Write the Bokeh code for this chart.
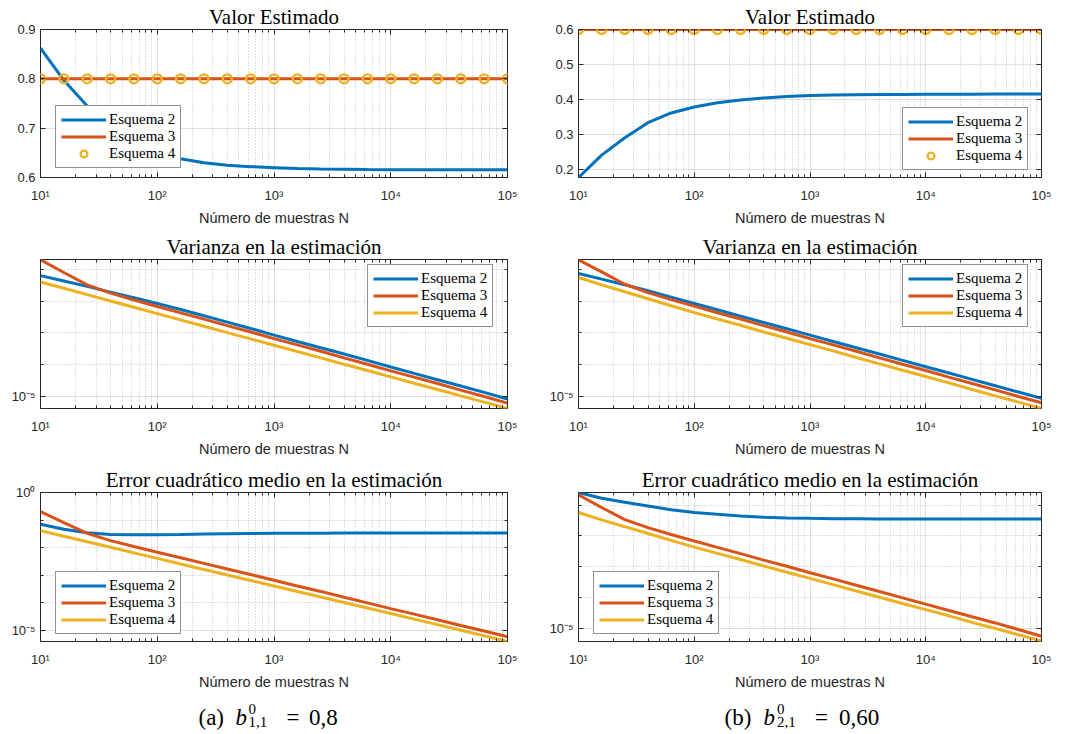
from bokeh.plotting import figure
from bokeh.layouts import column, row
from bokeh.models import (Range1d, FixedTicker, CustomJSTickFormatter, PrintfTickFormatter,
                          LogAxis, LinearAxis, Label)
from bokeh.embed import file_html
from bokeh.resources import INLINE

# ---------------- data ----------------
N = [10, 15.85, 25.12, 39.81, 63.10, 100, 158.5, 251.2, 398.1, 631.0, 1000,
     1585, 2512, 3981, 6310, 10000, 15849, 25119, 39811, 63096, 100000]

series_names = ["Esquema 2", "Esquema 3", "Esquema 4"]
panel_titles = ["Valor Estimado", "Varianza en la estimación",
                "Error cuadrático medio en la estimación"]
x_label = "Número de muestras N"

# (a) b = 0,8
mean_a_e2 = [0.862, 0.797, 0.745, 0.700, 0.672, 0.652, 0.638, 0.630, 0.625, 0.622, 0.620,
             0.618, 0.617, 0.6165, 0.616, 0.6158, 0.6156, 0.6155, 0.6155, 0.6155, 0.6155]
mean_a_e3 = [0.8, 0.8, 0.8, 0.8, 0.8, 0.8, 0.8, 0.8, 0.8, 0.8, 0.8,
             0.8, 0.8, 0.8, 0.8, 0.8, 0.8, 0.8, 0.8, 0.8, 0.8]
mean_a_e4 = [0.8, 0.8, 0.8, 0.8, 0.8, 0.8, 0.8, 0.8, 0.8, 0.8, 0.8,
             0.8, 0.8, 0.8, 0.8, 0.8, 0.8, 0.8, 0.8, 0.8, 0.8]
var_a_e2 = [0.0646, 0.0437, 0.0295, 0.0195, 0.0129, 0.00851, 0.0055, 0.00347, 0.00219, 0.00138,
            8.51e-4, 5.37e-4, 3.39e-4, 2.14e-4, 1.35e-4, 8.32e-5, 5.25e-5, 3.31e-5, 2.09e-5,
            1.32e-5, 8.13e-6]
var_a_e3 = [0.205, 0.0813, 0.0330, 0.0180, 0.0110, 0.00680, 0.00430, 0.00272, 0.0017, 0.00107,
            6.61e-4, 4.17e-4, 2.63e-4, 1.62e-4, 1.02e-4, 6.31e-5, 3.98e-5, 2.51e-5, 1.55e-5,
            9.77e-6, 6.03e-6]
var_a_e4 = [0.0407, 0.0257, 0.0162, 0.0102, 0.00646, 0.00407, 0.00257, 0.00162, 0.00102, 6.46e-4,
            4.07e-4, 2.57e-4, 1.62e-4, 1.02e-4, 6.46e-5, 4.07e-5, 2.57e-5, 1.62e-5, 1.02e-5,
            6.46e-6, 4.07e-6]
mse_a_e2 = [0.0708, 0.0468, 0.0347, 0.0302, 0.0292, 0.0295, 0.0302, 0.0313, 0.032, 0.0327,
            0.0331, 0.0335, 0.0337, 0.0339, 0.0339, 0.034, 0.034, 0.034, 0.034, 0.034, 0.034]
mse_a_e3 = [0.205, 0.0813, 0.0330, 0.0180, 0.0110, 0.0068, 0.0043, 0.0027, 0.0017, 0.00106,
            6.6e-4, 4.1e-4, 2.6e-4, 1.6e-4, 1.0e-4, 6.2e-5, 3.9e-5, 2.45e-5, 1.52e-5, 9.5e-6, 5.9e-6]
mse_a_e4 = [0.0415, 0.0259, 0.0163, 0.0103, 0.0065, 0.0041, 0.00258, 0.00163, 0.00103, 6.5e-4,
            4.1e-4, 2.58e-4, 1.63e-4, 1.03e-4, 6.5e-5, 4.1e-5, 2.58e-5, 1.63e-5, 1.02e-5, 6.4e-6, 4.0e-6]

# (b) b = 0,60
mean_b_e2 = [0.176, 0.240, 0.290, 0.333, 0.361, 0.378, 0.390, 0.398, 0.404, 0.408, 0.411,
             0.412, 0.413, 0.4135, 0.414, 0.4143, 0.4146, 0.4148, 0.415, 0.415, 0.415]
mean_b_e3 = [0.6, 0.6, 0.6, 0.6, 0.6, 0.6, 0.6, 0.6, 0.6, 0.6, 0.6,
             0.6, 0.6, 0.6, 0.6, 0.6, 0.6, 0.6, 0.6, 0.6, 0.6]
mean_b_e4 = [0.6, 0.6, 0.6, 0.6, 0.6, 0.6, 0.6, 0.6, 0.6, 0.6, 0.6,
             0.6, 0.6, 0.6, 0.6, 0.6, 0.6, 0.6, 0.6, 0.6, 0.6]
var_b_e2 = [0.075, 0.0501, 0.0331, 0.0214, 0.0135, 0.00851, 0.00537, 0.00339, 0.00214, 0.00135,
            8.51e-4, 5.37e-4, 3.39e-4, 2.14e-4, 1.35e-4, 8.51e-5, 5.37e-5, 3.39e-5, 2.14e-5,
            1.35e-5, 8.51e-6]
var_b_e3 = [0.204, 0.0851, 0.0345, 0.0188, 0.0113, 0.00700, 0.00435, 0.00275, 0.0017, 0.00107,
            6.61e-4, 4.17e-4, 2.63e-4, 1.62e-4, 1.02e-4, 6.46e-5, 3.98e-5, 2.51e-5, 1.58e-5,
            9.77e-6, 6.17e-6]
var_b_e4 = [0.0562, 0.0331, 0.02, 0.012, 0.00724, 0.00437, 0.00275, 0.00174, 0.00107, 6.76e-4,
            4.27e-4, 2.69e-4, 1.66e-4, 1.05e-4, 6.61e-5, 4.17e-5, 2.63e-5, 1.62e-5, 1.02e-5,
            6.46e-6, 4.07e-6]
mse_b_e2 = [0.255, 0.166, 0.123, 0.0933, 0.0708, 0.0575, 0.0501, 0.0447, 0.0407, 0.0385,
            0.0372, 0.0363, 0.0359, 0.0355, 0.0355, 0.0355, 0.0355, 0.0355, 0.0355, 0.0355, 0.0355]
mse_b_e3 = [0.214, 0.0832, 0.0340, 0.0186, 0.0112, 0.0069, 0.0043, 0.0027, 0.00166, 0.00105,
            6.5e-4, 4.1e-4, 2.57e-4, 1.6e-4, 1.0e-4, 6.3e-5, 3.9e-5, 2.45e-5, 1.55e-5, 9.5e-6, 5.75e-6]
mse_b_e4 = [0.0575, 0.0331, 0.02, 0.012, 0.00724, 0.00437, 0.00275, 0.00174, 0.00107, 6.76e-4,
            4.27e-4, 2.69e-4, 1.66e-4, 1.05e-4, 6.61e-5, 4.17e-5, 2.63e-5, 1.62e-5, 1.02e-5,
            6.46e-6, 4.07e-6]

x_major = [10, 100, 1000, 10000, 100000]
x_minor = [20, 30, 40, 50, 60, 70, 80, 90, 200, 300, 400, 500, 600, 700, 800, 900,
           2000, 3000, 4000, 5000, 6000, 7000, 8000, 9000,
           20000, 30000, 40000, 50000, 60000, 70000, 80000, 90000]
log_major = [1e-5, 1.0]
log_minor = [1e-4, 1e-3, 1e-2, 1e-1]
ticks_a_mean = [0.6, 0.7, 0.8, 0.9]
ticks_b_mean = [0.2, 0.3, 0.4, 0.5, 0.6]

captions = [["(a)", "b", "0", "1,1", "=", "0,8"],
            ["(b)", "b", "0", "2,1", "=", "0,60"]]

# ---------------- style ----------------
BLUE = "#0072BD"
ORANGE = "#D95319"
YELLOW = "#EDB120"
AX = "#262626"

SUP_JS = """
const s = {"-":"\u207b","0":"\u2070","1":"\u00b9","2":"\u00b2","3":"\u00b3","4":"\u2074",
           "5":"\u2075","6":"\u2076","7":"\u2077","8":"\u2078","9":"\u2079"};
const e = Math.round(Math.log10(tick));
return "10" + String(e).split("").map(c => s[c]).join("");
"""


def style_axis(ax, show_labels=True):
    ax.axis_line_color = None
    ax.major_tick_line_color = AX
    ax.minor_tick_line_color = AX
    ax.major_tick_in = 5
    ax.major_tick_out = 0
    ax.minor_tick_in = 3
    ax.minor_tick_out = 0
    if show_labels:
        ax.major_label_text_font = "Liberation Sans"
        ax.major_label_text_font_size = "13px"
        ax.major_label_text_color = AX
    else:
        ax.major_label_text_font_size = "1px"
        ax.major_label_text_alpha = 0
        ax.major_label_standoff = 0


def panel(col, rowi, title, yvals, ylog, yrange, yticks, yminor, legend_xy, markers):
    w = 533 if col == 0 else 532
    bl = 40 if col == 0 else 45
    fw = 467 if col == 0 else 463
    br = w - bl - fw
    h = 232 if rowi == 2 else 230
    bt = [29, 29, 32][rowi]
    fh = [148, 149, 149][rowi]
    bb = h - bt - fh
    p = figure(width=w, height=h, x_axis_type="log",
               y_axis_type="log" if ylog else "linear",
               x_range=Range1d(10, 1e5), y_range=Range1d(*yrange),
               output_backend="svg", toolbar_location=None,
               min_border_left=bl, min_border_right=br,
               min_border_top=bt, min_border_bottom=bb, title=title)
    p.title.text_font = "Liberation Serif"
    p.title.text_font_size = "21px"
    p.title.text_font_style = "normal"
    p.title.text_color = "black"
    p.title.align = "center"
    p.title.standoff = 2
    p.outline_line_color = AX
    p.outline_line_width = 1
    p.background_fill_color = "white"
    p.border_fill_color = "white"

    xt = FixedTicker(ticks=x_major, minor_ticks=x_minor)
    yt = FixedTicker(ticks=yticks, minor_ticks=yminor)
    xb = p.below[0]
    yl = p.left[0]
    xb.ticker = xt
    yl.ticker = yt
    xb.formatter = CustomJSTickFormatter(code=SUP_JS)
    if ylog:
        yl.formatter = CustomJSTickFormatter(code=SUP_JS)
    else:
        yl.formatter = PrintfTickFormatter(format="%.1f")
    style_axis(xb)
    style_axis(yl)
    xb.major_label_standoff = 10
    yl.major_label_standoff = 5
    xb.axis_label = x_label
    xb.axis_label_text_font = "Liberation Sans"
    xb.axis_label_text_font_size = "14.5px"
    xb.axis_label_text_font_style = "normal"
    xb.axis_label_text_color = AX
    xb.axis_label_standoff = 4

    top = LogAxis(ticker=xt)
    style_axis(top, False)
    p.add_layout(top, "above")
    right = LogAxis(ticker=yt) if ylog else LinearAxis(ticker=yt)
    style_axis(right, False)
    p.add_layout(right, "right")

    p.xgrid.ticker = xt
    p.ygrid.ticker = yt
    for g in (p.xgrid, p.ygrid):
        g.grid_line_color = AX
        g.grid_line_alpha = 0.15
        g.grid_line_width = 1
    p.xgrid.minor_grid_line_color = AX
    p.xgrid.minor_grid_line_alpha = 0.28
    p.xgrid.minor_grid_line_dash = "1 2"
    if ylog:
        p.ygrid.minor_grid_line_color = AX
        p.ygrid.minor_grid_line_alpha = 0.28
        p.ygrid.minor_grid_line_dash = "1 2"

    e2, e3, e4 = yvals
    p.line(N, e2, line_width=3, color=BLUE, legend_label=series_names[0])
    p.line(N, e3, line_width=3, color=ORANGE, legend_label=series_names[1])
    if markers:
        p.scatter(N, e4, marker="circle", size=9, fill_color=None, line_color=YELLOW,
                  line_width=2.4, legend_label=series_names[2])
    else:
        p.line(N, e4, line_width=3, color=YELLOW, legend_label=series_names[2])

    lg = p.legend[0]
    lg.location = legend_xy
    lg.label_text_font = "Liberation Serif"
    lg.label_text_font_size = "15px"
    lg.label_text_color = "black"
    lg.glyph_width = 45
    lg.glyph_height = 17
    lg.label_height = 17
    lg.spacing = 0
    lg.padding = 5
    lg.margin = 0
    lg.label_standoff = 3
    lg.border_line_color = AX
    lg.border_line_width = 1
    lg.background_fill_color = "white"
    lg.background_fill_alpha = 1
    return p


pa1 = panel(0, 0, panel_titles[0], (mean_a_e2, mean_a_e3, mean_a_e4), False, (0.6, 0.9),
            ticks_a_mean, [], (15, 9), True)
pb1 = panel(1, 0, panel_titles[0], (mean_b_e2, mean_b_e3, mean_b_e4), False, (0.176, 0.6),
            ticks_b_mean, [], (324, 7), True)
pa2 = panel(0, 1, panel_titles[1], (var_a_e2, var_a_e3, var_a_e4), True, (4.07e-6, 0.209),
            log_major, log_minor, (327, 81), False)
pb2 = panel(1, 1, panel_titles[1], (var_b_e2, var_b_e3, var_b_e4), True, (4.07e-6, 0.209),
            log_major, log_minor, (324, 81), False)
pa3 = panel(0, 2, panel_titles[2], (mse_a_e2, mse_a_e3, mse_a_e4), True, (3.98e-6, 1.0),
            log_major, log_minor, (15, 7), False)
pb3 = panel(1, 2, panel_titles[2], (mse_b_e2, mse_b_e3, mse_b_e4), True, (3.89e-6, 0.2547),
            log_major, log_minor, (15, 7), False)

# caption strip
cap = figure(width=1065, height=42, x_range=Range1d(0, 1065), y_range=Range1d(0, 42),
             output_backend="svg", toolbar_location=None, min_border=0)
cap.axis.visible = False
cap.grid.visible = False
cap.outline_line_color = None
cap_x = [[198, 235, 248, 248, 286, 308.5], [724, 763, 776.5, 776.5, 814.5, 838.5]]
for k in range(2):
    parts = captions[k]
    xs = cap_x[k]
    base = dict(text_font="Liberation Serif", text_color="black", text_baseline="alphabetic")
    cap.add_layout(Label(x=xs[0], y=17, text=parts[0], text_font_size="23px", **base))
    cap.add_layout(Label(x=xs[1], y=17, text=parts[1], text_font_size="23px",
                         text_font_style="italic", **base))
    cap.add_layout(Label(x=xs[2], y=25.5, text=parts[2], text_font_size="15px", **base))
    cap.add_layout(Label(x=xs[3], y=12.5, text=parts[3], text_font_size="15px", **base))
    cap.add_layout(Label(x=xs[4], y=17, text=parts[4], text_font_size="23px", **base))
    cap.add_layout(Label(x=xs[5], y=17, text=parts[5], text_font_size="23px", **base))

layout = column(row(pa1, pb1), row(pa2, pb2), row(pa3, pb3), cap)
open("out.html", "w").write(file_html(layout, INLINE))
